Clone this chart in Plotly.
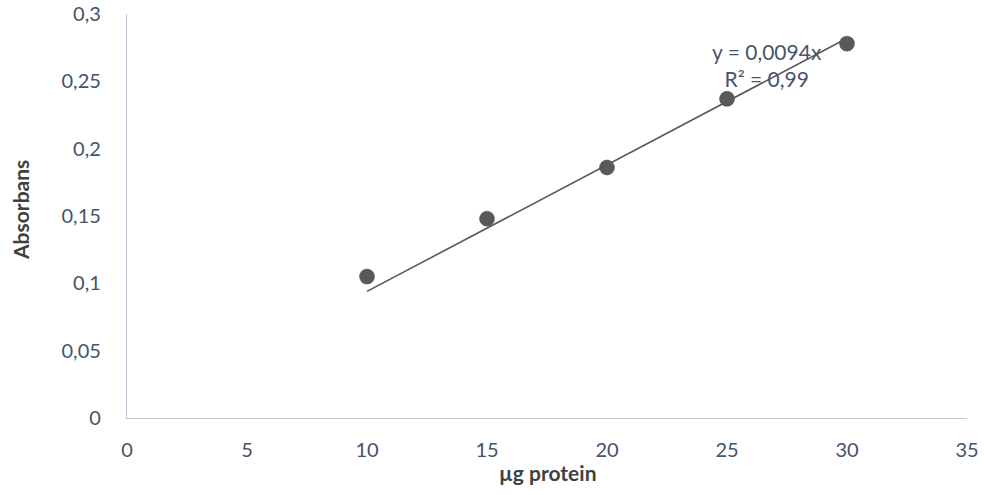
import plotly.graph_objects as go

# Data
protein_ug = [10, 15, 20, 25, 30]
absorbance = [0.105, 0.148, 0.186, 0.237, 0.278]
trend_x = [10, 30]
trend_y = [0.094, 0.282]
x_ticks = [0, 5, 10, 15, 20, 25, 30, 35]
y_ticks = [0, 0.05, 0.1, 0.15, 0.2, 0.25, 0.3]
y_tick_text = ["0", "0,05", "0,1", "0,15", "0,2", "0,25", "0,3"]

font_family = "Lato, 'Open Sans', sans-serif"
tick_color = "#44546A"
title_color = "#404040"
axis_line = "#BFC7D5"

fig = go.Figure()
fig.add_trace(go.Scatter(x=trend_x, y=trend_y, mode="lines",
                         line=dict(color="#595959", width=1.6),
                         showlegend=False, hoverinfo="skip"))
fig.add_trace(go.Scatter(x=protein_ug, y=absorbance, mode="markers",
                         marker=dict(color="#595959", size=15,
                                     line=dict(color="#4a4a4a", width=0.5)),
                         showlegend=False))

fig.add_annotation(x=26.67, y=0.262, xref="x", yref="y",
                   text="y = 0,0094x<br>R² = 0,99", showarrow=False,
                   font=dict(family=font_family, size=21, color=tick_color),
                   align="center", xanchor="center", yanchor="middle")

# axis titles
fig.add_annotation(x=0, y=0.515, xref="paper", yref="paper", xshift=-106,
                   text="<b>Absorbans</b>", textangle=-90, showarrow=False,
                   xanchor="center", yanchor="middle",
                   font=dict(family=font_family, size=21, color=title_color))
fig.add_annotation(x=0.5, y=0, xref="paper", yref="paper", yshift=-54,
                   text="<b>µg protein</b>", showarrow=False,
                   xanchor="center", yanchor="middle",
                   font=dict(family=font_family, size=21, color=title_color))

fig.update_layout(
    width=984, height=495,
    margin=dict(l=127, r=17, t=14, b=77),
    paper_bgcolor="white", plot_bgcolor="white",
    font=dict(family=font_family, color=tick_color),
    separators=", ",
)
fig.update_xaxes(range=[0, 35], tickvals=x_ticks, showgrid=False, zeroline=False,
                 showline=True, linecolor=axis_line, linewidth=1.3,
                 ticks="", ticklabelstandoff=14, automargin=False,
                 tickfont=dict(size=20, color=tick_color))
fig.update_yaxes(range=[0, 0.3], tickvals=y_ticks, ticktext=y_tick_text,
                 showgrid=False, zeroline=False,
                 showline=True, linecolor=axis_line, linewidth=1.3,
                 ticks="", ticklabelstandoff=21, automargin=False,
                 tickfont=dict(size=20, color=tick_color))

fig.write_html("out.html")
